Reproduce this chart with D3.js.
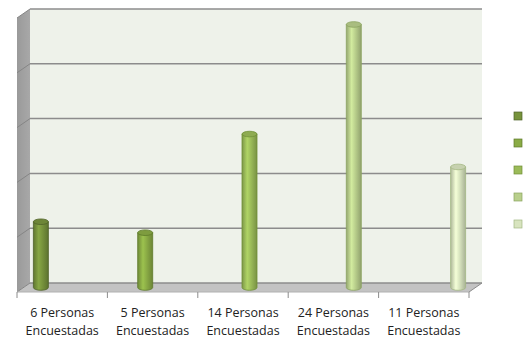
<!DOCTYPE html>
<html>
<head>
<meta charset="utf-8">
<script src="https://cdn.jsdelivr.net/npm/d3@7"></script>
<style>
  html, body { margin: 0; padding: 0; background: #fff; }
  svg { display: block; font-family: "Open Sans", "Noto Sans", sans-serif; }
</style>
</head>
<body>
<svg id="chart" width="524" height="342"></svg>
<script>
// categories and values (one series per category, clustered)
const categories = ["6 Personas Encuestadas", "5 Personas Encuestadas", "14 Personas Encuestadas", "24 Personas Encuestadas", "11 Personas Encuestadas"];
const series = ["S1", "S2", "S3", "S4", "S5"];
const values = [6, 5, 14, 24, 11];
const yTicks = [0, 5, 10, 15, 20, 25];

const fills = ["#77933c", "#8aab45", "#9bbb59", "#b9cf8c", "#d8e4bf"];
const strokes = ["#4f6228", "#5d7a2a", "#6f8f36", "#8aa35e", "#a3b883"];

const svg = d3.select("#chart");
const depth = { dx: -13, dy: 9 };

// back wall plane
const x = d3.scaleBand().domain(categories).range([30, 482]);
const xs = d3.scaleBand().domain(series).range([0, x.bandwidth()]).paddingInner(0).paddingOuter(0.75);
const y = d3.scaleLinear().domain([0, 25]).range([283, 9]);

const defs = svg.append("defs");
fills.forEach((c, i) => {
  const g = defs.append("linearGradient").attr("id", "cyl" + i).attr("x1", 0).attr("x2", 1).attr("y1", 0).attr("y2", 0);
  const base = d3.color(c);
  g.append("stop").attr("offset", 0).attr("stop-color", base.darker(0.6));
  g.append("stop").attr("offset", 0.35).attr("stop-color", base.brighter(0.35));
  g.append("stop").attr("offset", 0.6).attr("stop-color", base);
  g.append("stop").attr("offset", 1).attr("stop-color", base.darker(0.7));
});
const sideG = defs.append("linearGradient").attr("id", "side").attr("x1", 0).attr("x2", 1);
sideG.append("stop").attr("offset", 0).attr("stop-color", "#9a9a9a");
sideG.append("stop").attr("offset", 1).attr("stop-color", "#a8a8a8");

const x0 = x.range()[0], x1 = x.range()[1];
const yTop = y(25), yBot = y(0);

// back wall
svg.append("rect").attr("x", x0).attr("y", yTop).attr("width", x1 - x0).attr("height", yBot - yTop).attr("fill", "#eef2ea");
// left side wall
svg.append("path")
  .attr("d", `M${x0},${yTop}L${x0 + depth.dx},${yTop + depth.dy}L${x0 + depth.dx},${yBot + depth.dy}L${x0},${yBot}Z`)
  .attr("fill", "url(#side)");
// floor
svg.append("path")
  .attr("d", `M${x0},${yBot}L${x1},${yBot}L${x1 + depth.dx},${yBot + depth.dy}L${x0 + depth.dx},${yBot + depth.dy}Z`)
  .attr("fill", "#c3c3c3");

// gridlines
yTicks.forEach(t => {
  svg.append("line").attr("x1", x0).attr("x2", x1).attr("y1", y(t)).attr("y2", y(t))
    .attr("stroke", "#8c8c8c").attr("stroke-width", 1.5);
  svg.append("line").attr("x1", x0).attr("x2", x0 + depth.dx).attr("y1", y(t)).attr("y2", y(t) + depth.dy)
    .attr("stroke", "#858585").attr("stroke-width", 1);
});
svg.append("line").attr("x1", x1).attr("x2", x1 + depth.dx).attr("y1", yBot).attr("y2", yBot + depth.dy)
  .attr("stroke", "#8c8c8c").attr("stroke-width", 1);
svg.append("line").attr("x1", x0 + depth.dx).attr("x2", x1 + depth.dx).attr("y1", yBot + depth.dy).attr("y2", yBot + depth.dy)
  .attr("stroke", "#b0b0b0").attr("stroke-width", 1);

// x axis ticks on front edge
const fx = d3.scaleBand().domain(categories).range([x0 + depth.dx, x1 + depth.dx]);
const tickXs = categories.map(c => fx(c)).concat([fx.range()[1]]);
svg.selectAll(".tick").data(tickXs).join("line")
  .attr("x1", d => d).attr("x2", d => d)
  .attr("y1", yBot + depth.dy).attr("y2", yBot + depth.dy + 6)
  .attr("stroke", "#8c8c8c");

// labels
const lab = svg.selectAll(".lab").data(categories).join("text")
  .attr("x", d => fx(d) + fx.bandwidth() / 2)
  .attr("text-anchor", "middle")
  .attr("font-size", 12.5)
  .attr("fill", "#222");
lab.each(function (d) {
  const parts = d.split(" ");
  d3.select(this).append("tspan").attr("x", fx(d) + fx.bandwidth() / 2).attr("y", 317).text(parts[0] + " " + parts[1]);
  d3.select(this).append("tspan").attr("x", fx(d) + fx.bandwidth() / 2).attr("y", 335).text(parts[2]);
});

// cylinders at mid-depth
const r = 7.5, ry = 2.8;
categories.forEach((c, i) => {
  const s = series[i];
  const cx = x(c) + xs(s) + xs.bandwidth() / 2 + depth.dx / 2;
  const yb = y(0) + depth.dy / 2;
  const yt = y(values[i]) + depth.dy / 2;
  const g = svg.append("g");
  g.append("path")
    .attr("d", `M${cx - r},${yt}L${cx - r},${yb}A${r},${ry} 0 0 0 ${cx + r},${yb}L${cx + r},${yt}Z`)
    .attr("fill", `url(#cyl${i})`).attr("stroke", strokes[i]).attr("stroke-width", 0.8);
  g.append("ellipse").attr("cx", cx).attr("cy", yt).attr("rx", r).attr("ry", ry)
    .attr("fill", d3.color(fills[i]).darker(0.25)).attr("stroke", strokes[i]).attr("stroke-width", 0.8);
});

// legend (no text)
const ly = d3.scalePoint().domain(series).range([112, 220]);
svg.selectAll(".leg").data(series).join("rect")
  .attr("x", 514).attr("y", d => ly(d)).attr("width", 8).attr("height", 8)
  .attr("fill", (d, i) => fills[i]).attr("stroke", (d, i) => strokes[i]).attr("stroke-width", 0.7);
</script>
</body>
</html>
